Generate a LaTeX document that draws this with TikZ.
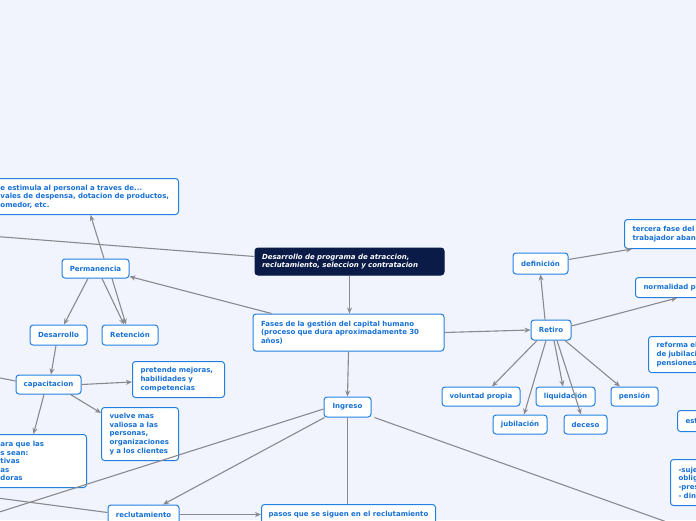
\documentclass[tikz,border=0pt]{standalone}
\usepackage{fontspec}
\setmainfont{DejaVu Sans}
\usepackage{tikz}
\usetikzlibrary{arrows.meta, positioning, calc}
\definecolor{mmbg}{RGB}{241,244,253}
\definecolor{mmblue}{RGB}{33,128,226}
\definecolor{mmtext}{RGB}{22,112,214}
\definecolor{mmroot}{RGB}{10,27,72}
\definecolor{mmline}{RGB}{138,138,142}
\newcommand{\mmfont}{\fontsize{7}{8.6}\selectfont\bfseries}
\tikzset{
  topic/.style={rectangle, draw=mmblue, fill=white, text=mmtext,
    rounded corners=3pt, line width=1pt, font=\mmfont,
    inner xsep=0pt, inner ysep=0pt, align=center},
  leaf/.style={topic, align=left, inner xsep=8pt, anchor=north west},
  rootbox/.style={topic, draw=mmroot, fill=mmroot, text=white,
    font=\mmfont\itshape, align=left, inner xsep=7pt},
  link/.style={-{Stealth[length=6pt,width=5pt]}, line width=1.1pt, color=mmline},
  plain/.style={line width=1.1pt, color=mmline}
}

\begin{document}
\begin{tikzpicture}[x=1pt, y=-1pt]
  % Background
  \fill[mmbg] (0,0) rectangle (696,520);
  \useasboundingbox (0,0) rectangle (696,520);

  % Root and first level
  \node[rootbox, text width=175pt, minimum height=27pt] (root) at (349.5,261.5)
    {Desarrollo de programa de atraccion,\\reclutamiento, seleccion y contratacion};
  \node[topic, align=left, inner xsep=8pt, text width=175pt, minimum height=37pt] (fases) at (348.5,332.5)
    {Fases de la gestión del capital humano\\(proceso que dura aproximadamente 30\\años)};
  \node[topic, minimum width=47pt, minimum height=20pt] (ingreso) at (347.5,407) {Ingreso};
  \node[topic, minimum width=40pt, minimum height=20pt] (retiro) at (551,330) {Retiro};
  \node[topic, minimum width=67pt, minimum height=19pt] (permanencia) at (95.5,268.5) {Permanencia};

  % Permanencia branch
  \node[leaf, text width=170pt, minimum height=36pt] (estimula) at (-8,178)
    {e estimula al personal a traves de...\\vales de despensa, dotacion de productos,\\omedor, etc.};
  \node[topic, minimum width=57pt, minimum height=20pt] (desarrollo) at (58.5,335) {Desarrollo};
  \node[topic, minimum width=56pt, minimum height=20pt] (retencion) at (130,335) {Retención};
  \node[topic, minimum width=65pt, minimum height=19pt] (capacitacion) at (48.5,384.5) {capacitacion};
  \node[leaf, text width=76pt, minimum height=36pt] (pretende) at (132,361)
    {pretende mejoras,\\habilidades y\\competencias};
  \node[leaf, text width=61pt, minimum height=53pt] (vuelve) at (101,407)
    {vuelve mas\\valiosa a las\\personas,\\organizaciones\\y a los clientes};
  \node[leaf, text width=78pt, minimum height=53pt] (paraque) at (-8,434)
    {ara que las\\s sean:\\tivas\\as\\doras};

  % Ingreso branch
  \node[topic, minimum width=71pt, minimum height=19pt] (reclutamiento) at (143.5,514.5) {reclutamiento};
  \node[topic, anchor=north west, minimum width=174pt, minimum height=20pt] (pasos) at (261,504)
    {pasos que se siguen en el reclutamiento};

  % Retiro branch
  \node[topic, minimum width=55pt, minimum height=21pt] (definicion) at (540.5,263.5) {definición};
  \node[leaf, text width=90pt, minimum height=29pt] (tercera) at (624,219)
    {tercera fase del\\trabajador aban};
  \node[leaf, text width=90pt, minimum height=20pt] (normalidad) at (635,277) {normalidad pa};
  \node[leaf, text width=90pt, minimum height=36pt] (reforma) at (648,336)
    {reforma el\\de jubilaci\\pensiones};
  \node[leaf, text width=90pt, minimum height=21pt] (est) at (677,410) {est};
  \node[leaf, text width=90pt, minimum height=46pt] (suje) at (670,459)
    {-suje\\oblig\\-pres\\- din};
  \node[topic, minimum width=78pt, minimum height=19pt] (voluntad) at (481,396.5) {voluntad propia};
  \node[topic, minimum width=59pt, minimum height=19pt] (liquidacion) at (565.5,396.5) {liquidación};
  \node[topic, minimum width=47pt, minimum height=19pt] (pension) at (634.5,396.5) {pensión};
  \node[topic, minimum width=54pt, minimum height=19pt] (jubilacion) at (520,424.5) {jubilación};
  \node[topic, minimum width=43pt, minimum height=19pt] (deceso) at (585.5,424.5) {deceso};

  % Free ends off the page
  \coordinate (offA) at (-10,236);
  \coordinate (offB) at (-10,376);
  \coordinate (offC) at (-10,515);
  \coordinate (offD) at (-10,497);
  \coordinate (offE) at (720,541);

  % Connectors
  \draw[link] (root.south) -- (root.south |- fases.north);
  \draw[plain] ([yshift=5pt]root.west) -- (offA);
  \draw[link] ([xshift=19pt]fases.north west) -- ([yshift=2pt]permanencia.south east);
  \draw[link] (fases.east) -- (retiro.west);
  \draw[link] (fases.south) -- (ingreso.north);

  \draw[link] ([xshift=8.5pt]permanencia.north) -- ([xshift=5pt]estimula.south);
  \draw[link] ([xshift=-7.5pt]permanencia.south) -- ([xshift=5.5pt]desarrollo.north);
  \draw[link] ([xshift=6.5pt]permanencia.south) -- ([xshift=-6pt]retencion.north);
  \draw[link] ([xshift=16.5pt]permanencia.south) -- ([xshift=-4pt]retencion.north);
  \draw[link] ([xshift=-2.5pt]desarrollo.south) -- ([xshift=2.5pt]capacitacion.north);
  \draw[link] (capacitacion.east) -- ([yshift=-2.5pt]pretende.west);
  \draw[link] ([xshift=-11pt]capacitacion.south east) -- ([yshift=-6pt]vuelve.north west);
  \draw[link] ([xshift=-4.5pt]capacitacion.south) -- ([xshift=-6pt]paraque.north);
  \draw[plain] (offB) -- ([yshift=3.5pt]capacitacion.west);

  \draw[plain] ([yshift=-2pt]ingreso.west) -- (offC);
  \draw[link] ([xshift=1pt]ingreso.south west) -- ([xshift=19.5pt]reclutamiento.north);
  \draw[plain] (ingreso.south) -- (ingreso.south |- pasos.north);
  \draw[plain] ([xshift=3pt]ingreso.south east) -- (offE);
  \draw[plain] (offD) -- ([yshift=2pt]reclutamiento.west);
  \draw[link] (reclutamiento.east) -- (reclutamiento.east -| pasos.west);

  \draw[link] ([xshift=-6pt]retiro.north) -- (definicion.south);
  \draw[link] ([yshift=4pt]definicion.east) -- ([xshift=8pt]tercera.south west);
  \draw[link] ([yshift=4pt]retiro.east) -- ([xshift=42pt]normalidad.south west);
  \draw[link] ([xshift=-14pt]retiro.south) -- ([xshift=11pt]voluntad.north);
  \draw[link] ([xshift=-5pt]retiro.south) -- ([xshift=4pt]jubilacion.north);
  \draw[link] ([xshift=3pt]retiro.south) -- ([xshift=-2.5pt]liquidacion.north);
  \draw[link] ([xshift=6pt]retiro.south) -- ([xshift=-4.5pt]deceso.north);
  \draw[link] ([xshift=14pt]retiro.south) -- ([xshift=-14.5pt]pension.north);
\end{tikzpicture}
\end{document}
